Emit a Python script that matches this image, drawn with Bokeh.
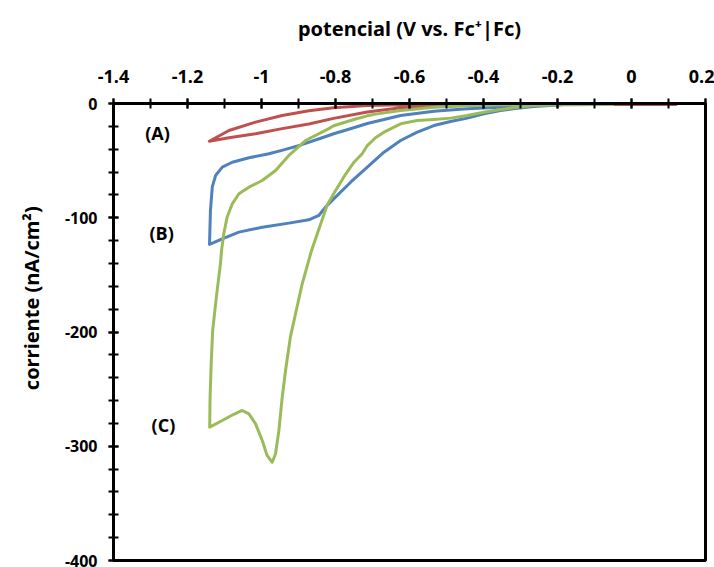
from bokeh.plotting import figure
from bokeh.models import Range1d, FixedTicker
from bokeh.core.properties import value
from bokeh.embed import file_html
from bokeh.resources import INLINE

# Data
# (A) red loop: outer branch leftwards, then inner branch back
a_x = [0.12, 0.0, -0.2, -0.4, -0.55, -0.624, -0.714, -0.805, -0.872, -0.944, -1.016,
       -1.088, -1.141,
       -1.088, -1.016, -0.944, -0.872, -0.805, -0.714, -0.624, -0.534, -0.444, -0.3,
       -0.1, 0.12]
a_y = [-0.8, -0.8, -0.8, -0.8, -0.9, -1.0, -1.75, -3.8, -6.3, -10.5, -16.3,
       -23.6, -33.0,
       -30.0, -26.5, -22.0, -18.0, -13.0, -7.5, -3.8, -2.0, -1.3, -1.0,
       -0.9, -0.9]

# (B) blue loop
b_x = [-0.19, -0.264, -0.354, -0.444, -0.534, -0.624, -0.714, -0.764, -0.805, -0.836,
       -0.895, -0.945, -0.98, -1.034, -1.079, -1.106, -1.124, -1.133, -1.138, -1.1405,
       -1.106, -1.061, -0.998, -0.926, -0.872, -0.845, -0.827, -0.8, -0.759, -0.714,
       -0.669, -0.624, -0.579, -0.534, -0.489, -0.444, -0.399, -0.354, -0.309, -0.264,
       -0.21, -0.19]
b_y = [-1.2, -1.75, -3.2, -4.7, -6.7, -10.5, -17.5, -22.5, -26.5, -30.0,
       -36.5, -41.0, -44.0, -47.5, -51.4, -55.7, -63.0, -73.0, -93.7, -123.4,
       -118.4, -112.6, -108.3, -104.7, -101.8, -98.0, -90.7, -82.0, -68.9, -55.7,
       -42.6, -32.4, -25.1, -19.3, -15.8, -12.8, -9.1, -6.1, -4.1, -2.6,
       -1.5, -1.2]

# (C) green loop
c_x = [-0.05, -0.192, -0.354, -0.444, -0.534, -0.624, -0.692, -0.714, -0.746, -0.805,
       -0.818, -0.881, -0.926, -0.962, -0.998, -1.034, -1.061, -1.079, -1.093, -1.102,
       -1.108, -1.111, -1.122, -1.132, -1.136, -1.139, -1.14,
       -1.106, -1.075, -1.052, -1.034, -1.016, -0.998, -0.985, -0.971, -0.962, -0.953,
       -0.944, -0.935, -0.922, -0.908, -0.89, -0.866, -0.845, -0.823, -0.805, -0.786,
       -0.773, -0.75, -0.728, -0.714, -0.692, -0.669, -0.624, -0.579, -0.534, -0.489,
       -0.444, -0.399, -0.354, -0.309, -0.264, -0.192, -0.05]
c_y = [-0.8, -0.9, -1.2, -1.9, -3.3, -6.1, -9.3, -10.8, -13.6, -19.5,
       -22.0, -32.4, -45.5, -58.6, -67.4, -73.2, -79.0, -87.8, -99.5, -114.0,
       -128.7, -140.3, -169.5, -198.7, -227.8, -257.0, -283.3,
       -277.5, -272.0, -268.7, -271.6, -280.4, -295.0, -308.0, -314.0, -306.6, -286.2,
       -257.0, -233.7, -204.5, -184.0, -157.8, -130.0, -110.0, -89.3, -79.0, -68.9,
       -62.0, -51.4, -44.0, -36.8, -30.0, -25.1, -17.8, -14.9, -14.0, -12.8,
       -10.5, -7.6, -5.3, -3.2, -1.75, -1.2, -0.8]

x_ticks = [-1.4, -1.2, -1.0, -0.8, -0.6, -0.4, -0.2, 0.0, 0.2]
x_tick_labels = ["-1.4", "-1.2", "-1", "-0.8", "-0.6", "-0.4", "-0.2", "0", "0.2"]
y_ticks = [0, -100, -200, -300, -400]
y_tick_labels = ["0", "-100", "-200", "-300", "-400"]

series_labels = ["(A)", "(B)", "(C)"]
label_x = [-1.281, -1.27, -1.265]
label_y = [-26.0, -113.0, -281.0]

colors = ["#C0504D", "#4F81BD", "#9BBB59"]
FONT = "Open Sans"

p = figure(width=714, height=567, output_backend="svg", toolbar_location=None,
           x_axis_location="above",
           x_range=Range1d(-1.4, 0.2), y_range=Range1d(-400, 0),
           min_border_left=113, min_border_right=9, min_border_top=103,
           min_border_bottom=7)
p.grid.visible = False
p.outline_line_color = "black"
p.outline_line_width = 3
p.background_fill_color = "white"
p.border_fill_color = "white"

for xs, ys, col in zip([a_x, b_x, c_x], [a_y, b_y, c_y], colors):
    p.line(xs, ys, line_color=col, line_width=3, line_join="round", line_cap="round")

xa = p.xaxis[0]
xa.ticker = FixedTicker(ticks=x_ticks,
                        minor_ticks=[round(-1.4 + 0.1 * i, 2) for i in range(17)])
xa.major_label_overrides = {t: s for t, s in zip(x_ticks, x_tick_labels)}
xa.axis_label = "potencial (V vs. Fc\u207A|Fc)"

ya = p.yaxis[0]
ya.ticker = FixedTicker(ticks=y_ticks, minor_ticks=list(range(-400, 1, 20)))
ya.major_label_overrides = {t: s for t, s in zip(y_ticks, y_tick_labels)}
# leading no-break spaces shift the rotated label up to where the reference has it
ya.axis_label = "\u00A0" * 13 + "corriente (nA/cm\u00B2)"

for ax in (xa, ya):
    ax.axis_line_width = 3
    ax.axis_line_color = "black"
    ax.major_tick_line_width = 2
    ax.minor_tick_line_width = 2
    ax.major_tick_in = 5
    ax.major_tick_out = 5
    ax.minor_tick_in = 5
    ax.minor_tick_out = 5
    ax.major_label_text_font = FONT
    ax.major_label_text_font_style = "bold"
    ax.major_label_text_color = "black"
    ax.axis_label_text_font = FONT
    ax.axis_label_text_font_style = "bold"
    ax.axis_label_text_color = "black"

xa.major_label_text_font_size = "18px"
xa.major_label_standoff = 16
xa.axis_label_text_font = "Noto Sans"
xa.axis_label_text_font_size = "20px"
xa.axis_label_standoff = 25

ya.major_label_text_font_size = "16px"
ya.major_label_standoff = 11
ya.axis_label_text_font_size = "20px"
ya.axis_label_standoff = 17

p.text(x=label_x, y=label_y, text=series_labels, text_font=value(FONT),
       text_font_style="bold", text_font_size="18px", text_color="black",
       text_align="center", text_baseline="middle")

open("out.html", "w").write(file_html(p, INLINE))
